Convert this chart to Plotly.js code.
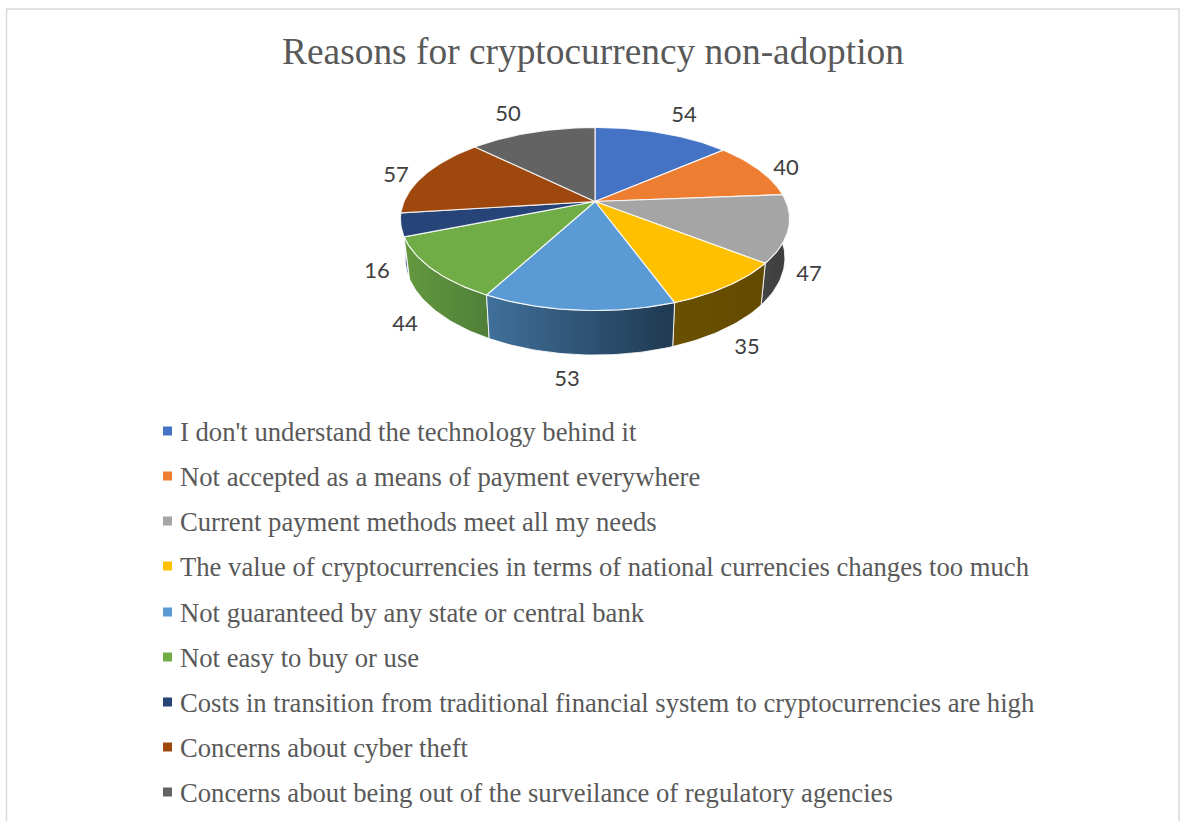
<!DOCTYPE html>
<html>
<head>
<meta charset="utf-8">
<script src="https://cdn.plot.ly/plotly-3.0.1.min.js"></script>
<style>html,body{margin:0;padding:0;background:#fff}#chart{width:1181px;height:821px}</style>
</head>
<body>
<div id="chart"></div>
<script>
// Survey responses, one entry per reason
const categories = [
  "I don't understand the technology behind it",
  "Not accepted as a means of payment everywhere",
  "Current payment methods meet all my needs",
  "The value of cryptocurrencies in terms of national currencies changes too much",
  "Not guaranteed by any state or central bank",
  "Not easy to buy or use",
  "Costs in transition from traditional financial system to cryptocurrencies are high",
  "Concerns about cyber theft",
  "Concerns about being out of the surveilance of regulatory agencies"
];
const values = [54, 40, 47, 35, 53, 44, 16, 57, 50];

// Slice colours and the left/right shades of each slice's side wall
const topColors = ["#4472c4", "#ed7d31", "#a5a5a5", "#ffc000", "#5b9bd5", "#70ad47", "#264478", "#9e480e", "#636363"];
const wallLeft  = ["#2a4678", "#8f4c1e", "#454545", "#6a5000", "#40709b", "#64993f", "#4a68ac", "#5f2c08", "#3b3b3b"];
const wallRight = ["#2a4678", "#8f4c1e", "#3c3c3c", "#624a00", "#1f3950", "#4f7f38", "#2b4a86", "#5f2c08", "#3b3b3b"];

// Where each value label sits, in chart pixels
const labelX = [684, 786, 809, 747, 567, 405, 377, 396, 508];
const labelY = [116, 169, 275, 348, 380, 325, 272, 176, 115];
const legendY = [434, 479, 524, 569, 615, 660, 705, 750, 795];

// Tilted disc: a unit circle under a perspective divide
const CX = 595, CY = 201.5, KX = 191, KY = 88.2, P = 0.191;
function project(theta) {
  const X = Math.sin(theta), Y = Math.cos(theta), w = 1 + P * Y;
  return [CX + KX * X / w, CY - KY * Y / w];
}
// Same point on the lower rim of the disc
function lower(pt) {
  return [CX + (pt[0] - CX) * 0.976, CY + 38 + (pt[1] - CY) * 1.06];
}
function arc(a0, a1) {
  const n = Math.max(4, Math.ceil((a1 - a0) / 0.02)), out = [];
  for (let i = 0; i <= n; i++) out.push(project(a0 + (a1 - a0) * i / n));
  return out;
}

const total = values.reduce((s, v) => s + v, 0);
const slices = [];
let running = 0;
values.forEach((v, i) => {
  const a0 = running / total * 2 * Math.PI;
  running += v;
  const a1 = running / total * 2 * Math.PI;
  slices.push({i, a0, a1, mid: (a0 + a1) / 2, rim: arc(a0, a1)});
});

const traces = [];

// Side walls, painted from the back of the disc to the front
[...slices].sort((p, q) => Math.cos(q.mid) - Math.cos(p.mid)).forEach(s => {
  const low = s.rim.map(lower).reverse();
  const ring = s.rim.concat(low, [s.rim[0]]);
  traces.push({
    type: "scatter", mode: "lines", hoverinfo: "skip", showlegend: false,
    x: ring.map(p => p[0]), y: ring.map(p => p[1]),
    fill: "toself",
    fillgradient: {type: "horizontal", colorscale: [[0, wallLeft[s.i]], [1, wallRight[s.i]]]},
    line: {color: "rgba(255,255,255,0.85)", width: 1}
  });
});

// Top faces of the slices
slices.forEach(s => {
  const ring = [[CX, CY]].concat(s.rim, [[CX, CY]]);
  traces.push({
    type: "scatter", mode: "lines", showlegend: false,
    x: ring.map(p => p[0]), y: ring.map(p => p[1]),
    fill: "toself", fillcolor: topColors[s.i],
    line: {color: "rgba(255,255,255,0.85)", width: 1.2},
    name: categories[s.i], text: String(values[s.i]), hoverinfo: "name+text"
  });
});

// Value labels around the disc
traces.push({
  type: "scatter", mode: "text", hoverinfo: "skip", showlegend: false,
  x: labelX, y: labelY, text: values.map(String), textposition: "middle center",
  textfont: {family: "Lato, Carlito, sans-serif", size: 22, color: "#404040"}
});

// Key: square swatches and the reasons beside them
traces.push({
  type: "scatter", mode: "markers", hoverinfo: "skip", showlegend: false,
  x: categories.map(() => 167.5), y: legendY.map(v => v - 3),
  marker: {symbol: "square", size: 9, color: topColors, line: {width: 0}}
});
traces.push({
  type: "scatter", mode: "text", hoverinfo: "skip", showlegend: false,
  x: categories.map(() => 180), y: legendY, text: categories, textposition: "middle right",
  textfont: {family: "'Liberation Serif', serif", size: 26.66, color: "#595959"}
});

const hiddenAxis = {visible: false, fixedrange: true, showgrid: false, zeroline: false};
const layout = {
  width: 1181, height: 821,
  margin: {l: 0, r: 0, t: 0, b: 0},
  paper_bgcolor: "#ffffff", plot_bgcolor: "#ffffff",
  showlegend: false,
  title: {
    text: "Reasons for cryptocurrency non-adoption",
    font: {family: "'Liberation Serif', serif", size: 37.4, color: "#595959"},
    x: 593 / 1181, xanchor: "center", y: 1 - 51 / 821, yanchor: "middle"
  },
  xaxis: Object.assign({range: [0, 1181]}, hiddenAxis),
  yaxis: Object.assign({range: [821, 0]}, hiddenAxis),
  shapes: [{
    type: "rect", xref: "x", yref: "y", x0: 6.5, y0: 9, x1: 1179, y1: 840,
    line: {color: "#d9d9d9", width: 1.5}, fillcolor: "rgba(0,0,0,0)", layer: "below"
  }]
};

Plotly.newPlot("chart", traces, layout, {displayModeBar: false, responsive: false});
</script>
</body>
</html>
